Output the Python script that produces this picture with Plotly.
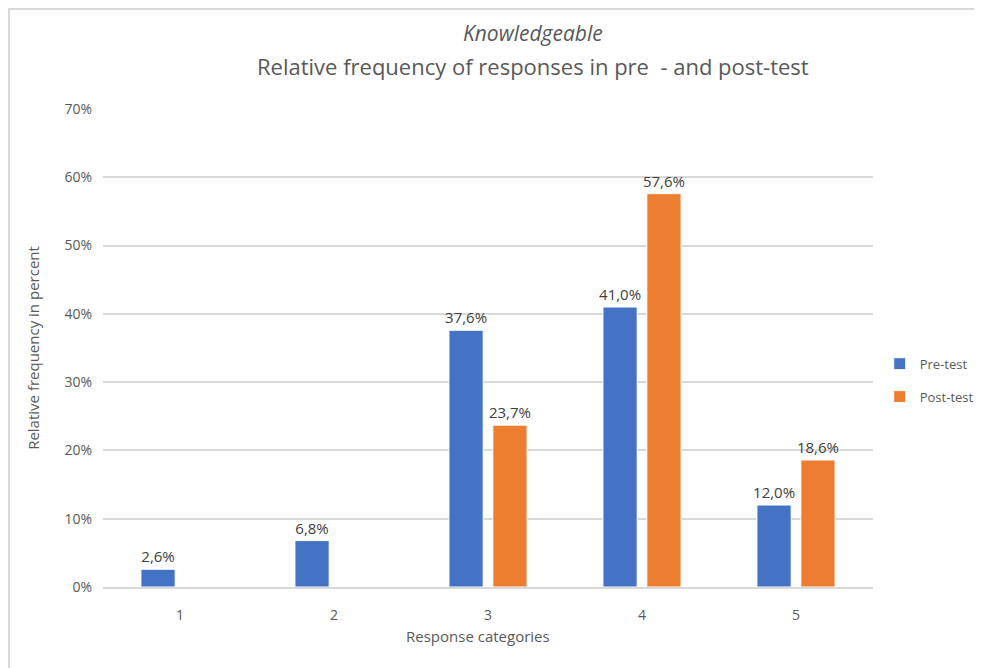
import plotly.graph_objects as go

categories = ["1", "2", "3", "4", "5"]
pre_test = [0.026, 0.068, 0.376, 0.410, 0.120]
post_test = [None, None, 0.237, 0.576, 0.186]
series_names = ["Pre-test", "Post-test"]
y_ticks = [0, 0.1, 0.2, 0.3, 0.4, 0.5, 0.6, 0.7]
y_tick_labels = ["0%", "10%", "20%", "30%", "40%", "50%", "60%", "70%"]
title_top = "Knowledgeable"
title_main = "Relative frequency of responses in pre  - and post-test"
x_title = "Response categories"
y_title = "Relative frequency in percent"

FONT = "'Open Sans', Lato, sans-serif"
GREY = "#595959"


def fmt(vals):
    return [("" if v is None else f"{v*100:.1f}%".replace(".", ",")) for v in vals]


fig = go.Figure()
for name, vals, color in [(series_names[0], pre_test, "#4472C4"),
                          (series_names[1], post_test, "#ED7D31")]:
    fig.add_trace(go.Bar(
        x=categories, y=vals, name=name, legendgroup=name,
        marker=dict(color=color, line=dict(color="white", width=1)),
        text=fmt(vals), textposition="outside", cliponaxis=False,
        constraintext="none",
        textfont=dict(family=FONT, size=15, color="#404040"),
    ))

# figure is drawn at an 8px page offset, so size/margins compensate
fig.update_layout(
    width=974, height=660,
    margin=dict(l=95, r=109, t=101, b=81, autoexpand=False),
    paper_bgcolor="white", plot_bgcolor="white",
    barmode="group", bargap=0.43, bargroupgap=0.22,
    font=dict(family=FONT, color=GREY, size=14),
    showlegend=True,
    legend=dict(xref="container", yref="container", x=0.895, y=0.436,
                xanchor="left", yanchor="middle",
                font=dict(family=FONT, size=13, color=GREY),
                tracegroupgap=13, itemwidth=30),
    xaxis=dict(
        showgrid=False, showline=True, linecolor="#D9D9D9", linewidth=2,
        ticks="", tickfont=dict(size=14, color=GREY), ticklabelstandoff=14,
        automargin=False,
    ),
    yaxis=dict(
        title=dict(text=y_title, font=dict(size=15, color=GREY), standoff=21),
        range=[0, 0.7], tickvals=y_ticks, ticktext=y_tick_labels,
        showgrid=True, gridcolor="#D9D9D9", gridwidth=1.5,
        zeroline=False, showline=False, ticks="",
        tickfont=dict(size=14, color=GREY), ticklabelstandoff=10, automargin=False,
    ),
    annotations=[
        dict(text=f"<i>{title_top}</i>", x=0.558, y=1.159, xref="paper", yref="paper",
             xanchor="center", yanchor="middle", showarrow=False,
             font=dict(family=FONT, size=21, color=GREY)),
        dict(text=title_main, x=0.558, y=1.09, xref="paper", yref="paper",
             xanchor="center", yanchor="middle", showarrow=False,
             font=dict(family=FONT, size=22, color=GREY)),
        dict(text=x_title, x=0.487, y=-0.1025, xref="paper", yref="paper",
             xanchor="center", yanchor="middle", showarrow=False,
             font=dict(family=FONT, size=15, color=GREY)),
    ],
    shapes=[
        dict(type="rect", xref="paper", yref="paper",
             x0=-0.1221, x1=1.3, y0=-0.3, y1=1.2092,
             line=dict(color="#D9D9D9", width=2), fillcolor="rgba(0,0,0,0)", layer="below"),
    ],
)

fig.write_html("out.html")
